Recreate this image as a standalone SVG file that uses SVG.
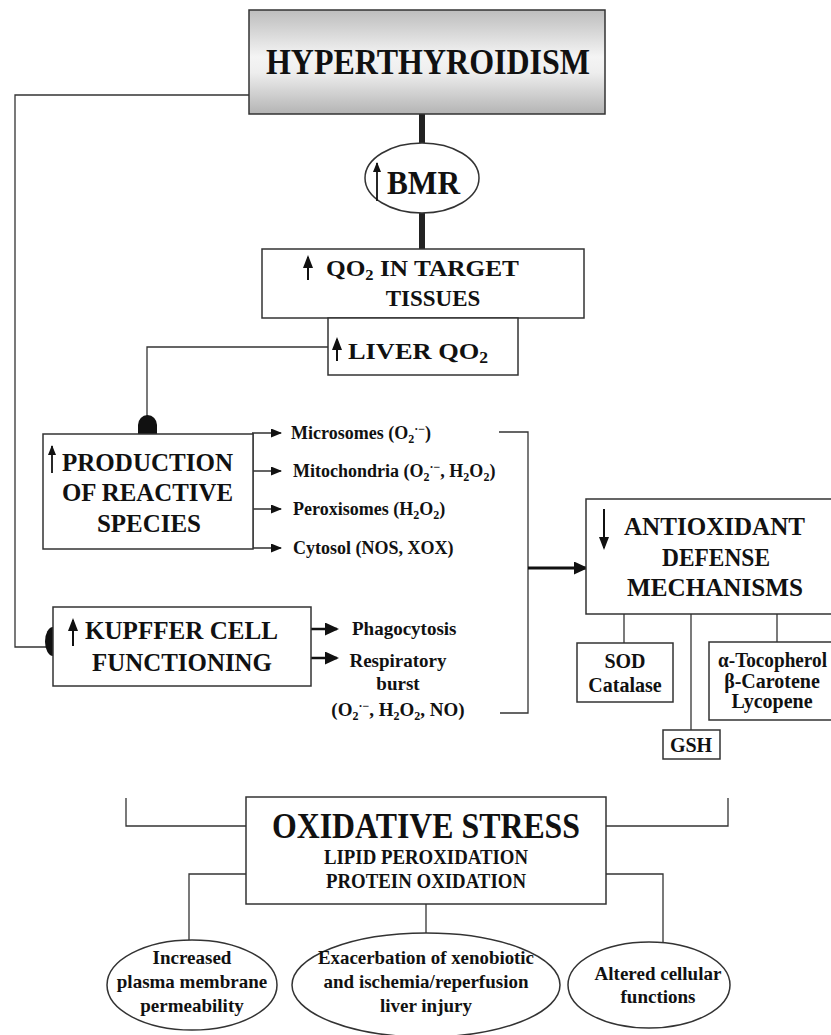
<svg xmlns="http://www.w3.org/2000/svg" width="831" height="1035" viewBox="0 0 831 1035">
<defs>
<linearGradient id="gtitle" x1="0" y1="0" x2="0" y2="1">
<stop offset="0" stop-color="#bdbdbd"/>
<stop offset="0.45" stop-color="#f4f4f4"/>
<stop offset="0.6" stop-color="#eeeeee"/>
<stop offset="1" stop-color="#b4b4b4"/>
</linearGradient>
<marker id="ah" markerUnits="userSpaceOnUse" markerWidth="12" markerHeight="10" refX="10" refY="4.5" orient="auto">
<path d="M0,0 L11,4.5 L0,9 z" fill="#111"/>
</marker>
<marker id="ahb" markerUnits="userSpaceOnUse" markerWidth="16" markerHeight="14" refX="12" refY="6.5" orient="auto">
<path d="M0,0 L14,6.5 L0,13 z" fill="#111"/>
</marker>
<marker id="up" markerUnits="userSpaceOnUse" markerWidth="14" markerHeight="12" refX="11" refY="5" orient="auto">
<path d="M0,0 L13,5 L0,10 z" fill="#111"/>
</marker>
<marker id="ups" markerUnits="userSpaceOnUse" markerWidth="12" markerHeight="10" refX="9" refY="4" orient="auto">
<path d="M0,0 L10,4 L0,8 z" fill="#111"/>
</marker>
</defs>
<style>
.box { fill: #fff; stroke: #333; stroke-width: 1.5; }
.ln { fill: none; stroke: #333; stroke-width: 1.3; }
.thick { fill: none; stroke: #222; stroke-width: 6; }
.arr { fill: none; stroke: #222; stroke-width: 1.4; marker-end: url(#ah); }
.arrb { fill: none; stroke: #111; stroke-width: 2.5; marker-end: url(#ahb); }
.ua { fill: none; stroke: #111; stroke-width: 2; marker-end: url(#up); }
.uas { fill: none; stroke: #111; stroke-width: 1.8; marker-end: url(#ups); }
.t { font-family: "Liberation Serif", "Times New Roman", serif; font-weight: bold; fill: #111; }
.c { text-anchor: middle; }
.f36 { font-size: 36px; }
.f34 { font-size: 34px; }
.f26 { font-size: 26px; }
.f24 { font-size: 24px; }
.f23 { font-size: 23px; }
.f19 { font-size: 19px; }
.f18 { font-size: 18px; }
.f20 { font-size: 20px; }
</style>
<rect width="831" height="1035" fill="#fff"/>

<g id="connectors">
<path class="ln" d="M249,95 H15 V647 H46"/>
<path d="M53,627 A8,14.5 0 0 0 53,656 z" fill="#111"/>
<line class="thick" x1="422" y1="114" x2="422" y2="143"/>
<line class="thick" x1="422" y1="212" x2="422" y2="249"/>
<path class="ln" d="M328,347 H147 V416"/>
<path d="M138,434 L138,425 A9.5,10 0 0 1 157,425 L157,434 z" fill="#111"/>
<line class="arr" x1="252" y1="433" x2="281" y2="433"/>
<line class="arr" x1="252" y1="471" x2="281" y2="471"/>
<line class="arr" x1="252" y1="509" x2="281" y2="509"/>
<line class="arr" x1="252" y1="548" x2="281" y2="548"/>
<line class="ln" x1="253" y1="433" x2="253" y2="548"/>
<line class="arrb" x1="311" y1="629" x2="337" y2="629"/>
<line class="arrb" x1="311" y1="658" x2="337" y2="658"/>
<path class="ln" d="M499,432 H528 V713 H500"/>
<line class="arrb" x1="528" y1="568" x2="586" y2="568" style="stroke-width:3"/>
<line class="ln" x1="624" y1="614" x2="624" y2="643"/>
<line class="ln" x1="691" y1="614" x2="691" y2="730"/>
<line class="ln" x1="777" y1="614" x2="777" y2="642"/>
<path class="ln" d="M126,798 V826 H246"/>
<path class="ln" d="M606,826 H728 V798"/>
<path class="ln" d="M246,874 H189 V940"/>
<path class="ln" d="M606,874 H663 V942"/>
<line class="ln" x1="426" y1="904" x2="426" y2="933"/>
</g>

<g id="hyperthyroidism">
<rect x="249" y="10" width="356" height="104" fill="url(#gtitle)" stroke="#333" stroke-width="1.5"/>
<text class="t f36 c" x="428" y="74" textLength="324" lengthAdjust="spacingAndGlyphs">HYPERTHYROIDISM</text>
</g>

<g id="bmr">
<ellipse cx="422" cy="178" rx="57" ry="35" class="box"/>
<line class="uas" x1="377" y1="201" x2="377" y2="163"/>
<text class="t f34" x="387" y="194" textLength="73" lengthAdjust="spacingAndGlyphs">BMR</text>
</g>

<g id="qo2-target">
<rect x="262" y="249" width="322" height="69" class="box"/>
<line class="ua" x1="308" y1="280" x2="308" y2="257"/>
<text class="t f23" x="326" y="276" textLength="193" lengthAdjust="spacingAndGlyphs">QO<tspan font-size="15" baseline-shift="-4">2</tspan> IN TARGET</text>
<text class="t f23 c" x="433" y="306">TISSUES</text>
</g>

<g id="liver-qo2">
<rect x="328" y="318" width="190" height="57" class="box"/>
<line class="ua" x1="337" y1="361" x2="337" y2="339"/>
<text class="t f24" x="348" y="359" textLength="140" lengthAdjust="spacingAndGlyphs">LIVER QO<tspan font-size="16" baseline-shift="-4">2</tspan></text>
</g>

<g id="production">
<rect x="43" y="434" width="210" height="115" class="box"/>
<line class="uas" x1="52" y1="473" x2="52" y2="446"/>
<text class="t f26" x="62" y="471" textLength="171" lengthAdjust="spacingAndGlyphs">PRODUCTION</text>
<text class="t f26" x="62" y="501" textLength="171" lengthAdjust="spacingAndGlyphs">OF REACTIVE</text>
<text class="t f26" x="97" y="532" textLength="104" lengthAdjust="spacingAndGlyphs">SPECIES</text>
</g>

<g id="sources">
<text class="t f18" x="291" y="439">Microsomes (O<tspan font-size="12" baseline-shift="-4">2</tspan><tspan font-size="12" baseline-shift="6">·−</tspan>)</text>
<text class="t f18" x="293" y="477">Mitochondria (O<tspan font-size="12" baseline-shift="-4">2</tspan><tspan font-size="12" baseline-shift="6">·−</tspan>, H<tspan font-size="12" baseline-shift="-4">2</tspan>O<tspan font-size="12" baseline-shift="-4">2</tspan>)</text>
<text class="t f18" x="293" y="515">Peroxisomes (H<tspan font-size="12" baseline-shift="-4">2</tspan>O<tspan font-size="12" baseline-shift="-4">2</tspan>)</text>
<text class="t f18" x="293" y="554">Cytosol (NOS, XOX)</text>
</g>

<g id="kupffer">
<rect x="53" y="607" width="258" height="79" class="box"/>
<line class="ua" x1="73" y1="646" x2="73" y2="620"/>
<text class="t f26" x="85" y="639" textLength="193" lengthAdjust="spacingAndGlyphs">KUPFFER CELL</text>
<text class="t f26" x="92" y="671" textLength="180" lengthAdjust="spacingAndGlyphs">FUNCTIONING</text>
</g>

<g id="kupffer-outputs">
<text class="t f19" x="352" y="635">Phagocytosis</text>
<text class="t f19 c" x="398" y="667">Respiratory</text>
<text class="t f19 c" x="398" y="690">burst</text>
<text class="t f19 c" x="398" y="716">(O<tspan font-size="12" baseline-shift="-4">2</tspan><tspan font-size="12" baseline-shift="6">·−</tspan>, H<tspan font-size="12" baseline-shift="-4">2</tspan>O<tspan font-size="12" baseline-shift="-4">2</tspan>, NO)</text>
</g>

<g id="antioxidant">
<path d="M835,499 H586 V614 H835" class="box"/>
<line class="ua" x1="604" y1="509" x2="604" y2="548"/>
<text class="t f26" x="624" y="535" textLength="181" lengthAdjust="spacingAndGlyphs">ANTIOXIDANT</text>
<text class="t f26" x="662" y="566" textLength="108" lengthAdjust="spacingAndGlyphs">DEFENSE</text>
<text class="t f26" x="627" y="596" textLength="176" lengthAdjust="spacingAndGlyphs">MECHANISMS</text>
</g>

<g id="sod">
<rect x="577" y="643" width="96" height="59" class="box"/>
<text class="t f20 c" x="625" y="668">SOD</text>
<text class="t f20 c" x="625" y="692">Catalase</text>
</g>

<g id="gsh">
<rect x="663" y="730" width="57" height="29" class="box"/>
<text class="t f20 c" x="691" y="752">GSH</text>
</g>

<g id="vitamins">
<path d="M835,642 H709 V720 H835" class="box"/>
<text class="t f20" x="718" y="667" textLength="109" lengthAdjust="spacingAndGlyphs">α-Tocopherol</text>
<text class="t f20 c" x="772" y="688">β-Carotene</text>
<text class="t f20 c" x="772" y="708">Lycopene</text>
</g>

<g id="oxidative-stress">
<rect x="246" y="797" width="360" height="107" class="box"/>
<text class="t f36 c" x="426" y="838" textLength="308" lengthAdjust="spacingAndGlyphs">OXIDATIVE STRESS</text>
<text class="t f20 c" x="426" y="864" textLength="204" lengthAdjust="spacingAndGlyphs">LIPID PEROXIDATION</text>
<text class="t f20 c" x="426" y="888" textLength="200" lengthAdjust="spacingAndGlyphs">PROTEIN OXIDATION</text>
</g>

<g id="membrane">
<ellipse cx="192" cy="985" rx="85" ry="45" class="box"/>
<text class="t f19 c" x="192" y="964">Increased</text>
<text class="t f19 c" x="192" y="988">plasma membrane</text>
<text class="t f19 c" x="192" y="1012">permeability</text>
</g>

<g id="injury">
<ellipse cx="426" cy="985" rx="134" ry="52" class="box"/>
<text class="t f19 c" x="426" y="964" textLength="216" lengthAdjust="spacingAndGlyphs">Exacerbation of xenobiotic</text>
<text class="t f19 c" x="426" y="988">and ischemia/reperfusion</text>
<text class="t f19 c" x="426" y="1012">liver injury</text>
</g>

<g id="cellular">
<ellipse cx="649" cy="985" rx="81" ry="43" class="box"/>
<text class="t f19 c" x="658" y="980">Altered cellular</text>
<text class="t f19 c" x="658" y="1003">functions</text>
</g>
</svg>
